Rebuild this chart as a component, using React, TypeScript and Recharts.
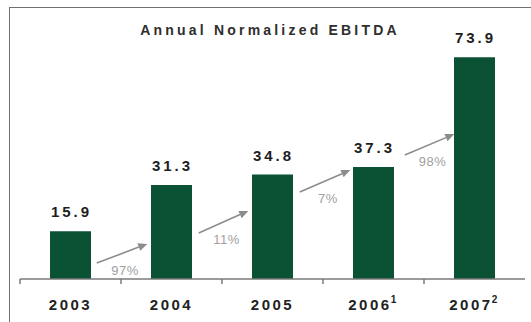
import { Bar, BarChart, LabelList, ReferenceLine, XAxis, YAxis } from "recharts";

const years = ["2003", "2004", "2005", "2006", "2007"];
const footnotes = ["", "", "", "1", "2"];
const ebitda = [15.9, 31.3, 34.8, 37.3, 73.9];

// growth arrows from one year to the next; start/end as fraction of the step between bar centres
const growthLabels = ["97%", "11%", "7%", "98%"];
const arrowStartFrac = [0.26, 0.27, 0.27, 0.31];
const arrowEndFrac = [0.76, 0.76, 0.77, 0.8];
const arrowStartY = [5.3, 15.3, 29.0, 41.3];
const arrowEndY = [11.7, 22.7, 36.3, 48.3];

const data = years.map((year, i) => ({ year, value: ebitda[i] }));

const GREEN = "#0b5234";
const GREY = "#8c8c8c";
const AXIS = "#7a7a7a";
const FONT = "Arial, 'Liberation Sans', sans-serif";

const YearTick = (props: any) => {
  const { x, y, payload, index } = props;
  const note = footnotes[index];
  const half = payload.offset || 0;
  const axisY = y - 8;
  return (
    <g>
      <line x1={x - half} y1={axisY} x2={x - half} y2={axisY + 5} stroke={AXIS} strokeWidth={1.5} />
      <text
        x={x}
        y={y + 23}
        textAnchor="middle"
        fontFamily={FONT}
        fontWeight="bold"
        fontSize={15}
        letterSpacing={2.5}
        fill="#222"
      >
        {payload.value}
        {note ? (
          <tspan fontSize={10} dy={-7} dx={-1}>
            {note}
          </tspan>
        ) : null}
      </text>
    </g>
  );
};

const ValueLabel = (props: any) => {
  const { x, y, width, value } = props;
  return (
    <text
      x={x + width / 2 + 1}
      y={y - 14}
      textAnchor="middle"
      fontFamily={FONT}
      fontWeight="bold"
      fontSize={15}
      letterSpacing={3}
      fill="#1e1e1e"
    >
      {value.toFixed(1)}
    </text>
  );
};

const growthArrow = (i: number) => (props: any) => {
  const { x1: cx1, y1, x2: cx2, y2 } = props;
  const x1 = cx1 + arrowStartFrac[i] * (cx2 - cx1);
  const x2 = cx1 + arrowEndFrac[i] * (cx2 - cx1);
  const ang = Math.atan2(y2 - y1, x2 - x1);
  const len = 9;
  const half = 4;
  const bx = x2 - len * Math.cos(ang);
  const by = y2 - len * Math.sin(ang);
  const px = -Math.sin(ang) * half;
  const py = Math.cos(ang) * half;
  const mx = (x1 + x2) / 2;
  const my = (y1 + y2) / 2;
  return (
    <g>
      <line x1={x1} y1={y1} x2={bx} y2={by} stroke={GREY} strokeWidth={1.6} />
      <polygon points={`${x2},${y2} ${bx + px},${by + py} ${bx - px},${by - py}`} fill={GREY} />
      <text
        x={mx + 3}
        y={my + 17}
        textAnchor="middle"
        dominantBaseline="central"
        fontFamily={FONT}
        fontSize={13}
        letterSpacing={0.5}
        fill="#a0a0a0"
      >
        {growthLabels[i]}
      </text>
    </g>
  );
};

export default function App() {
  return (
    <div style={{ position: "absolute", left: 0, top: 0, width: 531, height: 322, background: "#fff", overflow: "hidden" }}>
      <div
        style={{
          position: "absolute",
          left: 9,
          top: 7,
          width: 540,
          height: 340,
          border: "1.5px solid #707070",
        }}
      />
      <div
        style={{
          position: "absolute",
          left: 0,
          top: 22,
          width: 540,
          textAlign: "center",
          fontFamily: FONT,
          fontWeight: "bold",
          fontSize: 14,
          letterSpacing: 3.2,
          color: "#2e2e2e",
        }}
      >
        Annual Normalized EBITDA
      </div>
      <div style={{ position: "absolute", left: 0, top: 0 }}>
        <BarChart width={531} height={322} data={data} margin={{ top: 39, right: 6, bottom: 13, left: 20 }}>
          <XAxis
            dataKey="year"
            axisLine={{ stroke: AXIS, strokeWidth: 1.5 }}
            tickLine={false}
            tick={<YearTick />}
            interval={0}
            height={30}
          />
          <YAxis domain={[0, 80]} hide />
          <Bar dataKey="value" fill={GREEN} barSize={41} isAnimationActive={false}>
            <LabelList dataKey="value" content={<ValueLabel />} />
          </Bar>
          {growthLabels.map((label, i) => (
            <ReferenceLine
              key={`arrow-${label}-${i}`}
              ifOverflow="visible"
              segment={[
                { x: years[i], y: arrowStartY[i] },
                { x: years[i + 1], y: arrowEndY[i] },
              ]}
              shape={growthArrow(i)}
            />
          ))}
        </BarChart>
      </div>
    </div>
  );
}
